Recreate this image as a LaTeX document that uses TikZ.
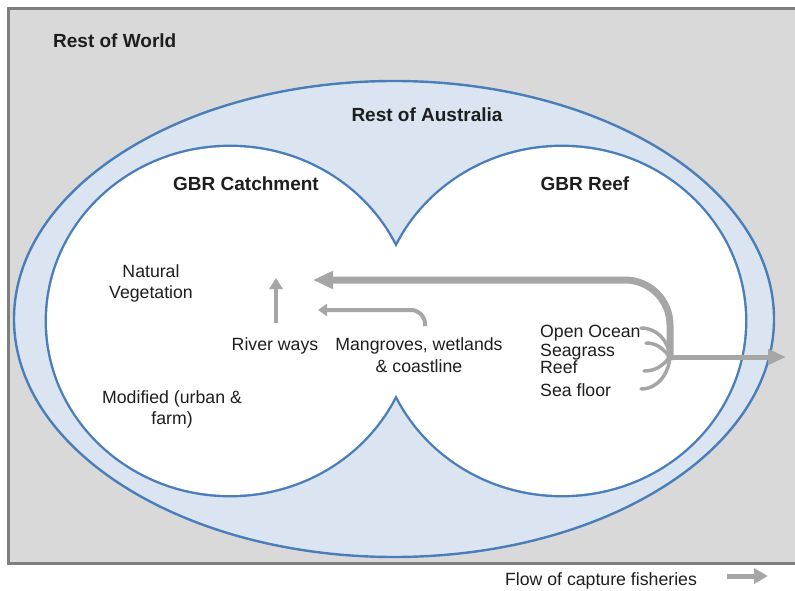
\documentclass[tikz,border=0pt]{standalone}
\usepackage{fontspec}
\setmainfont{Liberation Sans}
\usetikzlibrary{arrows.meta}

\definecolor{worldgray}{HTML}{D9D9D9}
\definecolor{framegray}{HTML}{7F7F7F}
\definecolor{ausblue}{HTML}{DBE5F1}
\definecolor{rimblue}{HTML}{4A7EBB}
\definecolor{flowgray}{HTML}{A6A6A6}
\definecolor{inkdark}{HTML}{1E1E1E}

\begin{document}
\begin{tikzpicture}[x=1pt, y=-1pt,
    region/.style={font=\fontsize{19}{21}\selectfont\bfseries, text=inkdark, inner sep=0pt},
    habitat/.style={font=\fontsize{17.7}{21}\selectfont, text=inkdark, align=center, inner sep=0pt},
    rim/.style={draw=rimblue, line width=2.4pt},
    flow/.style={draw=flowgray, line width=4pt, -{Triangle[length=11pt, width=13pt]}},
    bigflow/.style={draw=flowgray, line width=7pt, rounded corners=45pt, -{Triangle[length=20pt, width=17pt]}},
    outflow/.style={draw=flowgray, line width=5pt, -{Triangle[length=18pt, width=15pt]}},
    fan/.style={draw=flowgray, line width=3.5pt, line cap=round}]

  \useasboundingbox (0,0) rectangle (795,591);
  \clip (0,0) rectangle (795,591);

  % rest of world
  \draw[fill=worldgray, draw=framegray, line width=3pt] (8.5,8.5) rectangle (805,563);
  % rest of australia
  \draw[rim, fill=ausblue] (394,319) ellipse [x radius=380pt, y radius=238pt];
  % catchment and reef, outline of the union only
  \def\rx{183pt}
  \def\ry{174pt}
  \draw[rim, line width=4.8pt] (230,321) ellipse [x radius=\rx, y radius=\ry];
  \draw[rim, line width=4.8pt] (562,321) ellipse [x radius=\rx, y radius=\ry];
  \fill[white] (230,321) ellipse [x radius=\rx, y radius=\ry];
  \fill[white] (562,321) ellipse [x radius=\rx, y radius=\ry];

  \node[region, anchor=base west] (world) at (53,48) {Rest of World};
  \node[region, anchor=base] (australia) at (427,122) {Rest of Australia};
  \node[region, anchor=base] (catchment) at (246,190) {GBR Catchment};
  \node[region, anchor=base] (reef) at (585,190) {GBR Reef};

  \node[habitat] (natveg) at (151,283) {Natural\\Vegetation};
  \node[habitat] (modified) at (172,409) {Modified (urban \&\\farm)};
  \node[habitat, anchor=base] (riverways) at (275,350) {River ways};
  \node[habitat, font=\fontsize{17.7}{22.5}\selectfont] (mangroves) at (419,355) {Mangroves, wetlands\\\& coastline};

  \node[habitat, anchor=base west] (ocean) at (540,337) {Open Ocean};
  \node[habitat, anchor=base west] (seagrass) at (540,356) {Seagrass};
  \node[habitat, anchor=base west] (reefhab) at (540,373) {Reef};
  \node[habitat, anchor=base west] (seafloor) at (540,396) {Sea floor};

  \node[habitat, anchor=base] (legend) at (601,585) {Flow of capture fisheries};

  \coordinate (hub) at (670,357);
  \coordinate (exit) at (786,357);
  \coordinate (bigtip) at (313,280);
  \coordinate (riverfoot) at (276,323);
  \coordinate (rivertip) at (276,278);
  \coordinate (mangfoot) at (425,326);
  \coordinate (mangtip) at (318,310);
  \coordinate (oceanend) at (641,328);
  \coordinate (seagrassend) at (646,343);
  \coordinate (reefend) at (644,371);
  \coordinate (seafloorend) at (641,389);
  \coordinate (keyfoot) at (727,576);
  \coordinate (keytip) at (768,576);

  % flows
  \draw[fan] (oceanend) to[out=0, in=95] (hub);
  \draw[fan] (seagrassend) to[out=0, in=130] (hub);
  \draw[fan] (reefend) to[out=0, in=230] (hub);
  \draw[fan] (seafloorend) to[out=0, in=265] (hub);
  \draw[bigflow, shorten <=-3pt] (hub) |- (bigtip);
  \draw[outflow] (hub) -- (exit);
  \draw[flow] (riverfoot) -- (rivertip);
  \draw[flow, rounded corners=14pt, -{Triangle[length=9pt, width=12pt]}] (mangfoot) |- (mangtip);
  \draw[outflow, -{Triangle[length=14pt, width=15pt]}] (keyfoot) -- (keytip);
\end{tikzpicture}
\end{document}
